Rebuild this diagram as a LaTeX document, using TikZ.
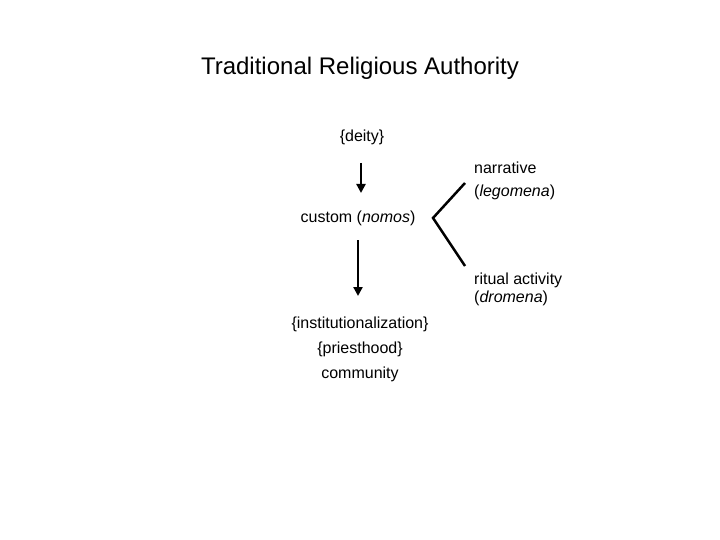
\documentclass[tikz,border=0pt]{standalone}
\usepackage{fontspec}
\setmainfont{Liberation Sans}
\usetikzlibrary{arrows.meta}
\begin{document}
\begin{tikzpicture}[x=1pt,y=-1pt,
  txt/.style={font=\fontsize{16}{20}\selectfont,inner sep=0pt,anchor=center},
  rt/.style={font=\fontsize{16}{20}\selectfont,inner sep=0pt,anchor=west},
  arr/.style={line width=2.5pt,-{Triangle[length=9pt,width=9pt]}},
  ln/.style={line width=2.5pt}]
\useasboundingbox (0,0) rectangle (720,540);
\node[inner sep=0pt,font=\fontsize{24}{28}\selectfont] (title) at (360,68) {Traditional Religious Authority};
\node[txt] (deity) at (362,137) {\{deity\}};
\node[txt] (custom) at (358,218) {custom (\textit{nomos})};
\node[rt] (nar) at (474,168) {narrative};
\node[rt] (leg) at (474,192) {(\textit{legomena})};
\node[rt] (rit) at (474,280) {ritual activity};
\node[rt] (dro) at (474,298) {(\textit{dromena})};
\node[txt] (inst) at (360,324) {\{institutionalization\}};
\node[txt] (pri) at (360,349) {\{priesthood\}};
\node[txt] (com) at (360,374) {community};
\coordinate (a1) at (361,163); \coordinate (a2) at (361,193);
\coordinate (b1) at (358,240); \coordinate (b2) at (358,296);
\draw[arr] (a1) -- (a2);
\draw[arr] (b1) -- (b2);
\coordinate (v) at (433,218); \coordinate (t1) at (465,183); \coordinate (t2) at (465,266);
\draw[ln] (t1) -- (v) -- (t2);
\end{tikzpicture}
\end{document}
